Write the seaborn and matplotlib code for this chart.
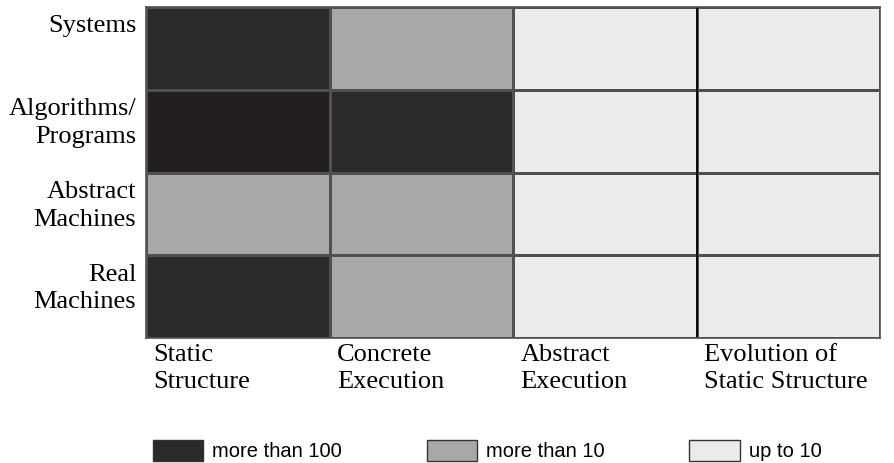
import numpy as np
import pandas as pd
import matplotlib
matplotlib.use("Agg")
import matplotlib.pyplot as plt
import seaborn as sns
from matplotlib.colors import ListedColormap
from matplotlib.patches import Patch

# Levels: 0 = up to 10, 1 = more than 10, 2 = more than 100 (3 = same class, darker print)
row_labels = ['Systems', 'Algorithms/\nPrograms', 'Abstract\nMachines', 'Real\nMachines']
col_labels = ['Static\nStructure', 'Concrete\nExecution', 'Abstract\nExecution', 'Evolution of\nStatic Structure']
systems = [2, 1, 0, 0]
algorithms = [3, 2, 0, 0]
abstract_machines = [1, 1, 0, 0]
real_machines = [2, 1, 0, 0]
legend_labels = ['more than 100', 'more than 10', 'up to 10']

colors = ['#eaebea', '#a7a8a9', '#2b292a', '#231f20']

df = pd.DataFrame([systems, algorithms, abstract_machines, real_machines],
                  index=row_labels, columns=col_labels)

fig = plt.figure(figsize=(8.94, 4.63), dpi=100)
ax = fig.add_axes([146 / 894, 1 - 338 / 463, (880 - 146) / 894, (338 - 7) / 463])

sns.heatmap(df, cmap=ListedColormap(colors), vmin=-0.5, vmax=3.5, cbar=False,
            linewidths=1.0, linecolor='#505050', ax=ax)
ax.axvline(3, color='black', lw=1.2)
for s in ax.spines.values():
    s.set_visible(True)
    s.set_color('#505050')
    s.set_linewidth(1.2)

ax.set_xticks(np.arange(4) + 0.04)
ax.set_xticklabels(col_labels, ha='left', rotation=0, fontfamily='Liberation Serif',
                   fontsize=19, linespacing=1.3)
ax.set_yticks(np.arange(4) + 0.1)
ax.set_yticklabels(row_labels, ha='right', va='top', rotation=0,
                   fontfamily='Liberation Serif', fontsize=19, linespacing=1.35)
ax.tick_params(axis='both', length=0)
ax.tick_params(axis='x', pad=4)
ax.tick_params(axis='y', pad=7)
ax.set_xlabel('')
ax.set_ylabel('')

handles = [Patch(facecolor=colors[2], edgecolor='#333333', lw=1),
           Patch(facecolor=colors[1], edgecolor='#333333', lw=1),
           Patch(facecolor=colors[0], edgecolor='#333333', lw=1)]
fig.legend(handles, legend_labels, loc='lower left', bbox_to_anchor=(153 / 894, 2 / 463),
           ncol=3, frameon=False, borderpad=0, borderaxespad=0,
           handlelength=2.5, handleheight=1.2, handletextpad=0.45, columnspacing=4.2,
           prop={'family': 'Liberation Sans', 'size': 14.5})

fig.savefig('out.png', dpi=100)
